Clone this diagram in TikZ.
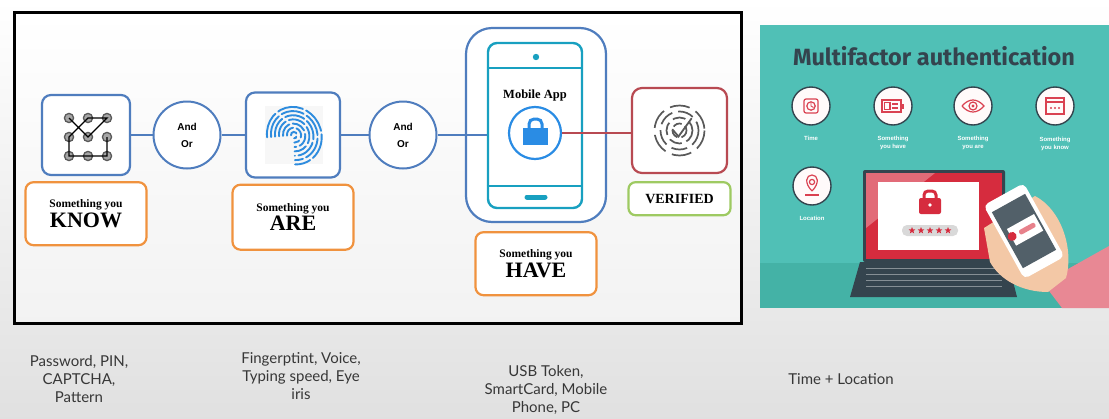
\documentclass[tikz,border=0pt]{standalone}
\usepackage{fontspec}
\setmainfont{Liberation Serif}
\newfontfamily\andfont{Liberation Sans}
\newfontfamily\titlefont{Fira Sans}
\newfontfamily\notefont{Lato}
\usetikzlibrary{positioning, calc, shapes.geometric}
\definecolor{boxblue}{RGB}{79,125,190}
\definecolor{boxorange}{RGB}{240,146,62}
\definecolor{boxred}{RGB}{184,74,82}
\definecolor{boxgreen}{RGB}{158,202,98}
\definecolor{phonecyan}{RGB}{24,160,192}
\definecolor{lockblue}{RGB}{42,140,228}
\definecolor{fpblue}{RGB}{46,140,222}
\definecolor{panelteal}{RGB}{80,192,182}
\definecolor{panelfloor}{RGB}{68,178,166}
\definecolor{slate}{RGB}{52,68,78}
\definecolor{mfared}{RGB}{214,44,62}
\definecolor{skin}{RGB}{243,200,166}
\definecolor{sleeve}{RGB}{232,136,148}
\definecolor{notegray}{RGB}{55,55,55}

\newcommand{\youtext}[1]{{\bfseries\fontsize{11.5}{13}\selectfont Something you}\\[1pt]{\bfseries\fontsize{22}{22}\selectfont #1}}

\begin{document}
\begin{tikzpicture}[x=1pt, y=-1pt,
    iconbox/.style={rectangle, rounded corners=9pt, draw=boxblue, line width=2.2pt, fill=white},
    labelbox/.style={rectangle, rounded corners=8pt, draw=boxorange, line width=2.2pt, fill=white, align=center,
        minimum width=121pt, minimum height=63pt},
    andor/.style={circle, draw=boxblue, line width=2pt, fill=white, minimum size=67pt, align=center,
        font=\andfont\bfseries\fontsize{10}{17}\selectfont},
    link/.style={boxblue, line width=2.6pt},
    note/.style={align=center, text=notegray, font=\notefont\fontsize{15}{18}\selectfont},
    mfaicon/.style={circle, draw=slate, line width=1.4pt, fill=white!92!pink, minimum size=38pt},
    mfalbl/.style={align=center, text=white, font=\andfont\bfseries\fontsize{6}{8}\selectfont},
    glyph/.style={mfared!90, line width=1.2pt}
]
\useasboundingbox (0,0) rectangle (1109,418);
\shade[top color=white, bottom color=black!12] (0,0) rectangle (1109,418);

% --- Factor chain ---
\shade[top color=white, bottom color=black!5] (14,12) rectangle (741,323);
\draw[line width=3pt] (14,12) rectangle (741,323);

\node[iconbox, minimum width=88pt, minimum height=80pt] (know) at (86,135) {};
\node[labelbox, below=5pt of know] (knowlbl) {\youtext{KNOW}};

\node[andor] (and1) at (187,135) {And\\Or};

\node[iconbox, minimum width=94pt, minimum height=85pt] (are) at (293,135) {};
\node[labelbox, below=5pt of are, minimum height=65pt] (arelbl) {\youtext{ARE}};

\node[andor] (and2) at (403,135) {And\\Or};

\node[iconbox, rounded corners=26pt, minimum width=140pt, minimum height=194pt] (phone) at (536,125) {};
\node[rectangle, rounded corners=9pt, draw=phonecyan, line width=2.4pt, minimum width=94pt,
    minimum height=165pt] (screen) at (535,125.5) {};
\node[labelbox, below=8pt of phone] (havelbl) {\youtext{HAVE}};

\node[rectangle, rounded corners=10pt, draw=boxred, line width=2.2pt, fill=white, minimum width=95pt,
    minimum height=85pt] (verify) at (679.5,130.5) {};
\node[rectangle, rounded corners=7pt, draw=boxgreen, line width=2.2pt, fill=white, minimum width=102pt,
    minimum height=33pt, font=\bfseries\fontsize{14}{16}\selectfont, below=7pt of verify] (verlbl) {VERIFIED};

% pattern lock
\begin{scope}[shift={(88,137)}]
    \foreach \r in {1,2,3}
        \foreach \c in {1,2,3}
            \coordinate (p\r\c) at (\c*19-38, \r*19-38);
    \foreach \r in {1,2,3}
        \foreach \c in {1,2,3}
            \draw[black!65, fill=black!35, line width=1.3pt] (p\r\c) circle (4.6);
    \draw[line width=1.3pt] (p11) -- (p22) -- (p13) -- (p12) -- (p21) -- (p31) -- (p33) -- (p23);
\end{scope}

% fingerprint
\fill[black!3] (265,106) rectangle (323,164);
\begin{scope}[shift={(294,135)}, rotate=25]
    \foreach \r [count=\i] in {3,7,11,15,19,23,27} {
        \pgfmathsetmacro\dl{5+\i*3}
        \draw[fpblue, line width=1.9pt, line cap=round, dash pattern=on \dl pt off 3.5pt]
            (200:\r) arc[start angle=200, end angle=475, x radius=\r, y radius=\r*1.08];
    }
\end{scope}

% phone details
\draw[phonecyan, line width=2.4pt] (screen.west |- 0,68) -- (screen.east |- 0,68);
\draw[phonecyan, line width=2.4pt] (screen.west |- 0,186) -- (screen.east |- 0,186);
\fill[phonecyan] (536,57) circle (3.2);
\draw[phonecyan, line width=5pt, line cap=round] (527,197) -- (545,197);
\node[font=\bfseries\fontsize{12.5}{14}\selectfont] (apptext) at (535,95) {Mobile App};
\node[circle, draw=lockblue, line width=2.2pt, fill=white, minimum size=52pt] (lock) at (535,133) {};
\draw[lockblue, line width=3pt, rounded corners=5pt] (529,130) -- (529,119) -- (542,119) -- (542,130);
\fill[lockblue] (523,128) rectangle (548,145);

% verified mark
\begin{scope}[shift={(verify.center)}]
    \foreach \r/\on/\off in {7/9/4, 13/13/5, 19/16/6, 25/20/7}
        \draw[black!65, line width=1.7pt, dash pattern=on \on pt off \off pt] (0,0) circle (\r);
    \draw[black!65, line width=1.8pt, line cap=round] (-7,-1) -- (-1,6) -- (12,-12);
\end{scope}

% connectors
\draw[link] (know) -- (and1);
\draw[link] (and1) -- (are);
\draw[link] (are) -- (and2);
\draw[link] (and2) -- (and2 -| screen.west);
\draw[boxred, line width=2.6pt] (lock) -- (lock -| verify.west);

% --- Multifactor panel ---
\fill[panelteal] (760,25) rectangle (1109,308);
\fill[panelfloor] (760,263) rectangle (1109,308);
\node[font=\titlefont\bfseries\fontsize{23.5}{26}\selectfont, text=slate] (mfatitle) at (934,56) {Multifactor authentication};

\node[mfaicon] (ictime) at (811,106) {};
\node[mfaicon] (ichave) at (893,106) {};
\node[mfaicon] (icare) at (973,106) {};
\node[mfaicon] (icknow) at (1055,106) {};
\node[mfaicon] (icloc) at (812,186) {};

\node[mfalbl] at (811,138) {Time};
\node[mfalbl] at (893,143) {Something\\you have};
\node[mfalbl] at (973,143) {Something\\you are};
\node[mfalbl] at (1055,144) {Something\\you know};
\node[mfalbl] at (812,218) {Location};

\begin{scope}[shift={(ictime.center)}]
    \draw[glyph, rounded corners=2pt] (-7,-7) rectangle (7,7);
    \draw[glyph] (0,0) circle (4.2);
    \draw[glyph, line width=0.9pt] (0,-3) -- (0,0) -- (2.5,1.5);
\end{scope}
\begin{scope}[shift={(ichave.center)}]
    \draw[glyph] (-11,-6) rectangle (8,6);
    \draw[glyph] (-8.5,-3.5) rectangle (-3,3.5);
    \draw[glyph] (-1,-2) -- (5,-2) (-1,2) -- (5,2);
    \fill[mfared!90] (8,-2.5) rectangle (11,2.5);
\end{scope}
\begin{scope}[shift={(icare.center)}]
    \draw[glyph] (-11,0) .. controls (-4,-8) and (4,-8) .. (11,0) .. controls (4,8) and (-4,8) .. (-11,0);
    \draw[glyph] (0,0) circle (4);
    \fill[mfared!90] (0,0) circle (1.6);
\end{scope}
\begin{scope}[shift={(icknow.center)}]
    \draw[glyph] (-9,-8) rectangle (9,8);
    \draw[glyph] (-9,-4) -- (9,-4);
    \foreach \x in {-4,0,4}
        \fill[mfared!90] (\x,2) circle (1.2);
\end{scope}
\begin{scope}[shift={(icloc.center)}]
    \draw[glyph] (0,5) .. controls (-8,-3) and (-6,-11) .. (0,-11) .. controls (6,-11) and (8,-3) .. (0,5);
    \draw[glyph] (0,-4) circle (2.6);
    \draw[glyph] (-7,9) -- (7,9);
\end{scope}

% laptop
\fill[slate, rounded corners=2pt] (863,170) rectangle (1005,262);
\fill[mfared] (866,173) rectangle (1002,259);
\fill[mfared!70!white] (866,173) -- (935,173) -- (866,228) -- cycle;
\fill[white] (878,182) rectangle (979,250);
\draw[mfared, line width=3pt, rounded corners=4pt] (924,200) -- (924,191) -- (936,191) -- (936,200);
\fill[mfared, rounded corners=2pt] (919,198) rectangle (941,214);
\fill[white] (930,205) circle (1.8);
\fill[black!15, rounded corners=5pt] (902,225) rectangle (958,236);
\foreach \i in {0,...,4}
    \node[star, star points=5, star point ratio=2.3, fill=mfared, minimum size=7pt, inner sep=0pt] at (912+\i*9,230.5) {};
\fill[slate] (860,262) -- (1008,262) -- (1017,297) -- (850,297) -- cycle;
\foreach \y in {268,274,280,286}
    \draw[slate!60!white, line width=0.8pt] (866,\y) -- (1002,\y);

% hand holding a phone
\fill[sleeve] (1043,283) -- (1109,246) -- (1109,308) -- (1062,308) -- cycle;
\fill[skin] (1035,196) .. controls (1062,210) and (1074,250) .. (1066,278)
    -- (1048,292) .. controls (1022,292) and (1000,280) .. (990,262) -- (984,228) -- cycle;
\begin{scope}[shift={(1024,231)}, rotate=29]
    \fill[white, rounded corners=5pt] (-23,-42) rectangle (23,42);
    \fill[slate!85] (-19,-32) rectangle (19,32);
    \fill[white] (-14,-10) rectangle (17,9);
    \fill[mfared] (-13,-1) circle (4.5);
    \fill[mfared!60!white, rounded corners=2pt] (-5,-3) rectangle (13,2);
\end{scope}

% --- Examples under each factor ---
\node[note] (knownote) at (79,379) {Password, PIN,\\CAPTCHA,\\Pattern};
\node[note] (arenote) at (301,376) {Fingerptint, Voice,\\Typing speed, Eye\\iris};
\node[note] (havenote) at (546,390) {USB Token,\\SmartCard, Mobile\\Phone, PC};
\node[note] (timenote) at (841,379) {Time + Location};
\end{tikzpicture}
\end{document}
